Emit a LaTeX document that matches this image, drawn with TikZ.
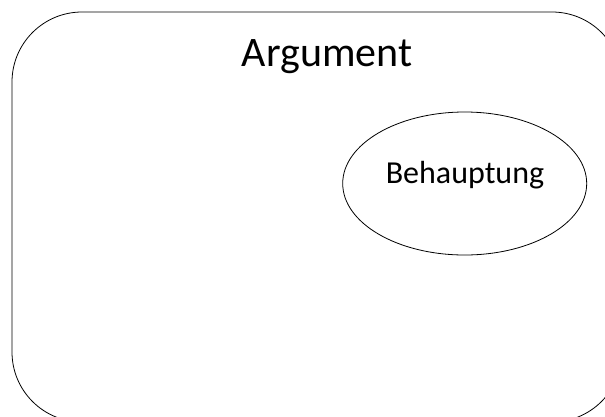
\documentclass[tikz,border=0pt]{standalone}
\usepackage{fontspec}
\setmainfont{Carlito}
\usepackage{tikz}
\usetikzlibrary{shapes}

\begin{document}
\begin{tikzpicture}[x=1pt, y=-1pt]
	\useasboundingbox (0, 0) rectangle (605, 416);
	\node [fill=none, draw=black, shape=rectangle, rounded corners=70pt, minimum width=610pt, minimum height=410pt, line width=0.8pt] (argument) at (317, 217) {};
	\node [anchor=base, font=\fontsize{42}{50}\selectfont] (argumenttext) at (327, 66.7) {Argument};
	\node [fill=white, draw=black, shape=ellipse, minimum width=244pt, minimum height=143pt, line width=0.8pt] (claim) at (464.7, 183.5) {};
	\node [anchor=base, font=\fontsize{32}{38}\selectfont] (claimtext) at (465, 183.3) {Behauptung};
\end{tikzpicture}
\end{document}
